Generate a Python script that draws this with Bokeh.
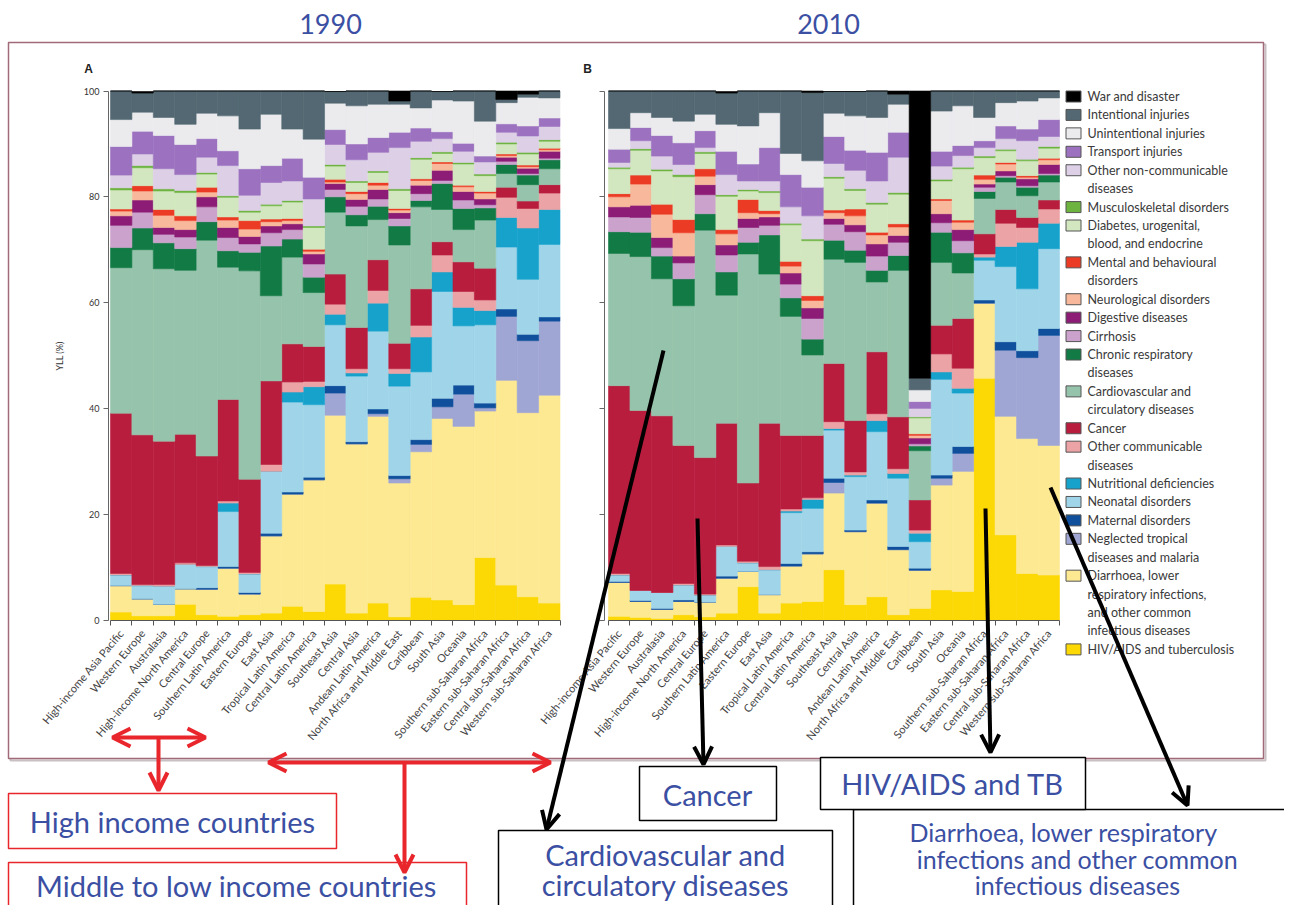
from bokeh.plotting import figure
from bokeh.models import Range1d, LinearAxis, FixedTicker, ColumnDataSource, Arrow, OpenHead
from bokeh.embed import file_html
from bokeh.resources import INLINE
from bokeh.core.properties import value

# ---------------- data ----------------
REGIONS = ["High-income Asia Pacific", "Western Europe", "Australasia", "High-income North America",
           "Central Europe", "Southern Latin America", "Eastern Europe", "East Asia",
           "Tropical Latin America", "Central Latin America", "Southeast Asia", "Central Asia",
           "Andean Latin America", "North Africa and Middle East", "Caribbean", "South Asia",
           "Oceania", "Southern sub-Saharan Africa", "Eastern sub-Saharan Africa",
           "Central sub-Saharan Africa", "Western sub-Saharan Africa"]

# stacking order, bottom to top
CAUSES = ["hiv", "diarrhoea", "ntd", "maternal", "neonatal", "nutritional", "other_comm", "cancer",
          "cvd", "chronic_resp", "cirrhosis", "digestive", "neuro", "mental", "diabetes", "musculo",
          "other_ncd", "transport", "unintentional", "intentional", "war"]

CAUSE_LABELS = ["HIV/AIDS and tuberculosis",
                "Diarrhoea, lower\nrespiratory infections,\nand other common\ninfectious diseases",
                "Neglected tropical\ndiseases and malaria", "Maternal disorders", "Neonatal disorders",
                "Nutritional deficiencies", "Other communicable\ndiseases", "Cancer",
                "Cardiovascular and\ncirculatory diseases", "Chronic respiratory\ndiseases", "Cirrhosis",
                "Digestive diseases", "Neurological disorders", "Mental and behavioural\ndisorders",
                "Diabetes, urogenital,\nblood, and endocrine", "Musculoskeletal disorders",
                "Other non-communicable\ndiseases", "Transport injuries", "Unintentional injuries",
                "Intentional injuries", "War and disaster"]

CAUSE_COLORS = ["#fcd805", "#fde992", "#a0a6d3", "#0f4f9c", "#a0d5e9", "#17a2cc", "#eba3a5", "#b91d3e",
                "#96c3ab", "#127a45", "#cba2cc", "#8c1c76", "#f7b89b", "#ec3b25", "#d2e7bf", "#6db33f",
                "#dccfe6", "#9c72c0", "#ebebee", "#536872", "#000000"]

# YLL share (%) by cause, 1990
HIV_1990 = [1.5, 0.8, 0.8, 3.0, 1.0, 0.7, 1.0, 1.3, 2.6, 1.6, 6.8, 1.3, 3.2, 0.6, 4.3, 3.8, 2.9, 11.8, 6.6, 4.4, 3.2]
DIAR_1990 = [5.0, 3.2, 2.2, 2.9, 4.8, 9.1, 3.9, 14.6, 21.2, 24.9, 31.9, 32.0, 35.3, 25.3, 27.5, 34.3, 33.7, 27.7, 38.7, 34.8, 39.3]
NTD_1990 = [0, 0, 0, 0, 0, 0, 0, 0, 0, 0, 4.2, 0, 0.5, 0.8, 1.4, 2.2, 6.1, 0.6, 12.1, 13.6, 14.0]
MAT_1990 = [0, 0, 0, 0, 0.3, 0.3, 0.3, 0.5, 0.4, 0.5, 1.4, 0.4, 0.9, 0.6, 0.9, 1.6, 1.7, 0.9, 1.4, 1.2, 0.8]
NEO_1990 = [2.0, 2.5, 3.4, 4.6, 4.0, 10.4, 3.5, 11.7, 17.0, 13.7, 11.5, 12.4, 14.7, 16.9, 12.8, 20.2, 11.2, 14.8, 11.7, 10.4, 13.7]
NUT_1990 = [0, 0, 0, 0, 0, 1.6, 0, 0, 1.9, 3.4, 2.0, 0.6, 5.3, 2.4, 6.6, 3.7, 3.5, 2.7, 5.6, 9.7, 6.6]
OC_1990 = [0.3, 0.2, 0.3, 0.3, 0.2, 0.4, 0.3, 1.3, 1.9, 1.0, 1.9, 0.8, 2.4, 0.9, 2.2, 3.2, 3.0, 2.0, 3.8, 3.7, 3.1]
CAN_1990 = [30.3, 28.3, 27.1, 24.3, 20.7, 19.2, 17.6, 15.8, 7.2, 6.6, 5.7, 7.8, 5.8, 4.8, 6.9, 2.5, 5.6, 6.0, 1.9, 1.4, 1.6]
CVD_1990 = [27.5, 35.0, 32.6, 31.0, 40.8, 25.0, 39.4, 16.1, 16.4, 10.2, 11.7, 19.2, 7.6, 18.6, 15.5, 6.1, 6.1, 9.1, 2.6, 3.1, 3.0]
CR_1990 = [3.8, 4.1, 4.9, 4.1, 3.5, 3.1, 3.5, 9.4, 3.4, 2.9, 2.9, 2.1, 2.5, 3.6, 1.2, 4.9, 4.0, 2.3, 1.7, 1.8, 1.7]
CIRR_1990 = [4.2, 3.0, 1.6, 2.2, 2.8, 2.5, 1.6, 2.5, 1.8, 2.5, 1.4, 1.6, 1.4, 1.4, 1.3, 0.6, 1.6, 0.6, 0.6, 0.3, 0.3]
DIG_1990 = [1.8, 2.3, 1.3, 1.4, 1.9, 1.9, 1.4, 1.3, 1.1, 1.9, 1.1, 1.3, 1.8, 1.1, 1.6, 1.9, 1.6, 1.1, 0.8, 1.0, 1.3]
NEU_1990 = [0.9, 1.7, 2.3, 1.7, 0.9, 1.4, 1.4, 0.8, 0.6, 0.5, 0.3, 1.1, 0.8, 0.5, 0.9, 1.3, 0.9, 1.1, 0.3, 0.3, 0.3]
MEN_1990 = [0.4, 1.0, 1.1, 0.9, 0.9, 0.6, 1.6, 0.5, 0.4, 0.4, 0.5, 0.4, 0.5, 0.3, 0.3, 0.3, 0.3, 0.3, 0.3, 0.3, 0.3]
DIAB_1990 = [3.6, 3.4, 3.5, 4.4, 2.5, 3.7, 1.6, 2.5, 3.1, 4.1, 2.5, 1.7, 1.9, 3.4, 3.7, 1.6, 4.0, 3.0, 1.9, 2.1, 1.3]
MUS_1990 = [0.4, 0.4, 0.4, 0.4, 0.3, 0.3, 0.3, 0.3, 0.3, 0.3, 0.3, 0.3, 0.3, 0.3, 0.3, 0.3, 0.3, 0.3, 0.3, 0.3, 0.3]
ONCD_1990 = [2.4, 2.2, 3.8, 3.0, 2.9, 5.7, 2.9, 4.1, 3.7, 5.1, 3.8, 4.0, 3.5, 7.8, 3.1, 2.5, 2.1, 2.3, 1.9, 3.1, 2.5]
TRA_1990 = [5.4, 4.3, 6.3, 5.7, 3.5, 2.8, 5.0, 3.2, 4.3, 4.1, 2.8, 3.0, 2.8, 2.9, 2.5, 1.3, 1.5, 1.1, 1.6, 1.9, 1.6]
UNI_1990 = [5.1, 3.6, 3.4, 3.8, 4.8, 6.6, 7.5, 9.7, 5.5, 7.2, 5.0, 7.2, 6.3, 5.3, 3.8, 6.0, 8.0, 6.6, 4.0, 5.4, 3.8]
INT_1990 = [5.4, 3.6, 5.0, 6.3, 4.2, 4.7, 7.2, 4.4, 7.2, 9.1, 2.2, 2.8, 2.5, 0.6, 3.2, 1.6, 1.9, 5.7, 0.6, 0.6, 1.3]
WAR_1990 = [0, 0.3, 0, 0, 0, 0, 0, 0, 0, 0, 0, 0, 0, 1.9, 0, 0, 0, 0, 1.6, 0.6, 0]

# YLL share (%) by cause, 2010
HIV_2010 = [0.7, 0.5, 0.3, 1.0, 0.6, 1.3, 6.3, 1.3, 3.2, 3.5, 9.5, 2.9, 4.4, 1.0, 2.2, 5.7, 5.4, 45.7, 16.1, 8.8, 8.5]
DIAR_2010 = [6.4, 3.0, 1.7, 2.5, 2.8, 6.6, 2.9, 3.5, 7.0, 9.0, 14.5, 13.8, 17.7, 12.3, 7.2, 19.8, 22.7, 14.2, 22.4, 25.5, 24.5]
NTD_2010 = [0, 0, 0, 0, 0, 0, 0, 0, 0, 0, 2.0, 0, 0, 0, 0, 1.3, 3.4, 0, 12.5, 15.3, 20.8]
MAT_2010 = [0.2, 0.2, 0.2, 0.3, 0, 0.4, 0, 0, 0.5, 0.4, 0.8, 0.3, 0.6, 0.6, 0.4, 0.6, 1.3, 0.6, 1.6, 1.3, 1.3]
NEO_2010 = [1.2, 1.9, 3.0, 2.8, 1.3, 5.6, 1.6, 4.7, 9.6, 8.2, 9.1, 10.1, 12.9, 12.9, 5.0, 18.1, 10.1, 7.5, 14.2, 11.7, 15.1]
NUT_2010 = [0, 0, 0, 0, 0, 0, 0, 0, 0.3, 1.7, 0.3, 0.3, 2.1, 0.9, 1.6, 1.4, 0.9, 0.6, 3.8, 8.8, 4.8]
OC_2010 = [0.3, 0, 0, 0.3, 0.2, 0.3, 0.3, 0.6, 0.4, 0.3, 1.3, 0.6, 1.3, 0.9, 0.6, 3.4, 3.8, 0.6, 4.4, 2.8, 2.7]
CAN_2010 = [35.5, 34.0, 33.4, 26.1, 25.8, 23.0, 14.8, 27.1, 13.9, 11.8, 11.0, 9.7, 11.7, 9.8, 5.7, 5.4, 9.4, 3.8, 2.6, 1.9, 1.7]
CVD_2010 = [25.0, 29.1, 25.9, 26.4, 43.0, 24.2, 43.3, 28.2, 22.5, 15.2, 19.7, 29.9, 13.2, 27.7, 9.3, 11.9, 8.6, 6.7, 5.2, 4.1, 3.4]
CR_2010 = [4.1, 4.6, 4.3, 5.1, 3.1, 4.4, 2.2, 7.4, 3.5, 3.0, 3.6, 2.3, 2.2, 2.8, 0.9, 5.7, 3.8, 1.3, 0.9, 1.6, 1.3]
CIRR_2010 = [2.8, 2.8, 1.6, 3.0, 3.6, 3.2, 2.8, 1.8, 2.6, 3.9, 3.0, 3.5, 2.7, 2.5, 0.4, 1.8, 2.3, 0.8, 0.3, 0.3, 0.3]
DIG_2010 = [1.9, 2.3, 1.9, 1.3, 1.9, 1.9, 1.7, 1.6, 2.1, 2.0, 1.1, 1.3, 2.3, 1.3, 1.1, 1.7, 2.1, 0.6, 0.9, 1.3, 1.7]
NEU_2010 = [1.9, 4.0, 4.4, 4.4, 1.6, 2.1, 1.1, 0.6, 1.3, 1.4, 1.1, 1.7, 1.7, 1.6, 0.5, 2.5, 1.4, 0.9, 1.3, 0.3, 0.9]
MEN_2010 = [0.6, 1.7, 1.9, 2.5, 1.4, 0.8, 2.5, 0.6, 0.9, 0.9, 0.5, 1.3, 0.5, 0.6, 0.3, 0.3, 0.4, 0.8, 0.3, 0.3, 0.3]
DIAB_2010 = [4.7, 4.7, 6.3, 8.1, 2.9, 6.3, 1.6, 3.4, 6.9, 10.4, 6.0, 3.5, 5.3, 5.6, 3.0, 3.4, 9.7, 3.3, 2.2, 2.8, 1.9]
MUS_2010 = [0.3, 0.3, 0.3, 0.4, 0.3, 0.3, 0.3, 0.3, 0.3, 0.3, 0.3, 0.3, 0.3, 0.3, 0.2, 0.3, 0.3, 0.3, 0.3, 0.3, 0.3]
ONCD_2010 = [0.9, 1.5, 2.5, 1.9, 0.8, 3.8, 1.6, 1.9, 3.1, 4.4, 2.5, 3.5, 4.1, 6.7, 1.6, 2.5, 2.2, 1.6, 2.0, 3.5, 1.9]
TRA_2010 = [2.5, 2.5, 3.9, 4.1, 3.2, 4.4, 3.2, 6.3, 6.1, 5.4, 5.1, 3.8, 5.4, 4.7, 1.3, 2.8, 1.9, 1.3, 2.4, 2.2, 3.2]
UNI_2010 = [3.9, 2.8, 3.4, 4.1, 3.1, 5.1, 7.2, 6.6, 4.0, 5.0, 4.4, 6.5, 6.6, 5.3, 2.2, 7.6, 7.5, 4.4, 4.4, 5.3, 4.1]
INT_2010 = [7.1, 4.1, 5.0, 5.7, 4.4, 5.9, 6.6, 4.1, 11.8, 12.9, 4.1, 4.6, 5.0, 1.9, 2.2, 3.8, 2.8, 5.0, 2.2, 1.9, 1.3]
WAR_2010 = [0, 0, 0, 0, 0, 0.3, 0, 0, 0, 0.3, 0, 0, 0, 0.6, 54.3, 0, 0, 0, 0, 0, 0]

Y_TICKS = [0, 20, 40, 60, 80, 100]

YLL_1990 = [HIV_1990, DIAR_1990, NTD_1990, MAT_1990, NEO_1990, NUT_1990, OC_1990, CAN_1990, CVD_1990,
            CR_1990, CIRR_1990, DIG_1990, NEU_1990, MEN_1990, DIAB_1990, MUS_1990, ONCD_1990, TRA_1990,
            UNI_1990, INT_1990, WAR_1990]
YLL_2010 = [HIV_2010, DIAR_2010, NTD_2010, MAT_2010, NEO_2010, NUT_2010, OC_2010, CAN_2010, CVD_2010,
            CR_2010, CIRR_2010, DIG_2010, NEU_2010, MEN_2010, DIAB_2010, MUS_2010, ONCD_2010, TRA_2010,
            UNI_2010, INT_2010, WAR_2010]

# ---------------- layout ----------------
W, H = 1284, 905
BLUE = "#3b4fa3"
RED = "#e8262b"
FONT = "Lato"

# canvas coordinates = picture pixels (y downwards)
p = figure(width=W, height=H, x_range=Range1d(0, W), y_range=Range1d(H, 0),
           output_backend="svg", toolbar_location=None, x_axis_type=None, y_axis_type=None,
           min_border=0, outline_line_color=None, background_fill_color="white")


def mapped_range(v_a, px_a, v_b, px_b, px_lo, px_hi):
    s = (v_b - v_a) / (px_b - px_a)
    return Range1d(v_a + (px_lo - px_a) * s, v_a + (px_hi - px_a) * s)


PLOT_TOP, PLOT_BOT = 90.5, 619.5
p.extra_y_ranges = {"pct": mapped_range(0, PLOT_BOT, 100, PLOT_TOP, H, 0)}
PANELS = [("xa", 110.0, 559.5, 108.0, YLL_1990, True),
          ("xb", 608.0, 1059.0, 604.0, YLL_2010, False)]
p.extra_x_ranges = {name: mapped_range(-0.5, x0, len(REGIONS) - 0.5, x1, 0, W)
                    for name, x0, x1, _, _, _ in PANELS}

# outer frame
p.quad(left=[10], right=[1265], top=[44], bottom=[760], fill_color=None, line_color="#c8c0c4", line_width=2)
p.quad(left=[8], right=[1263], top=[42], bottom=[758], fill_color="white", line_color="#a06a78", line_width=1.5)

idx = list(range(len(REGIONS)))
for name, x0, x1, axis_x, table, show_labels in PANELS:
    data = {"x": idx}
    for c, vals in zip(CAUSES, table):
        data[c] = vals
    src = ColumnDataSource(data)
    p.vbar_stack(CAUSES, x="x", width=1.0, color=CAUSE_COLORS, line_width=0.6, source=src,
                 x_range_name=name, y_range_name="pct")

    yax = LinearAxis(y_range_name="pct", fixed_location=axis_x, ticker=FixedTicker(ticks=Y_TICKS),
                     bounds=(0, 100), axis_line_color="#666666", major_tick_line_color="#666666",
                     major_tick_out=5, major_tick_in=0, minor_tick_line_color=None,
                     major_label_text_font=FONT, major_label_text_font_size="9px",
                     major_label_text_color="#333333", major_label_standoff=4)
    if show_labels:
        yax.axis_label = "YLL (%)"
        yax.axis_label_text_font = FONT
        yax.axis_label_text_font_size = "9px"
        yax.axis_label_text_font_style = "normal"
        yax.axis_label_text_color = "#333333"
        yax.axis_label_standoff = 16
    else:
        yax.major_label_overrides = {t: "" for t in Y_TICKS}
    p.add_layout(yax, "left")

    xax = LinearAxis(x_range_name=name, y_range_name="pct", fixed_location=0,
                     ticker=FixedTicker(ticks=idx, minor_ticks=[i - 0.5 for i in range(len(REGIONS) + 1)]),
                     bounds=(-0.5, len(REGIONS) - 0.5),
                     major_label_overrides={i: r for i, r in enumerate(REGIONS)},
                     major_label_orientation=0.87, major_tick_in=0, major_tick_out=0,
                     minor_tick_in=0, minor_tick_out=5, minor_tick_line_color="#555555",
                     axis_line_color="#555555", major_label_text_font=FONT,
                     major_label_text_font_size="11px", major_label_text_color="#444444",
                     major_label_standoff=6)
    p.add_layout(xax, "below")

# panel letters and titles
p.text(x=[88, 587], y=[68, 68], text=["A", "B"], text_font=value("Liberation Sans"),
       text_font_size="12px", text_font_style="bold", text_align="center", text_baseline="middle",
       text_color="#222222")
p.text(x=[330, 828], y=[23, 23], text=["1990", "2010"], text_font=value(FONT), text_font_size="27px",
       text_align="center", text_baseline="middle", text_color=BLUE)

# legend (top entry = last cause in stack)
LEG_X, LEG_Y0, LEG_STEP = 1073, 96, 18.43
sw_y, sw_c, tx, ty, tt = [], [], [], [], []
line_no = 0
for c_label, c_color in zip(reversed(CAUSE_LABELS), reversed(CAUSE_COLORS)):
    y0 = LEG_Y0 + line_no * LEG_STEP
    sw_y.append(y0)
    sw_c.append(c_color)
    for k, part in enumerate(c_label.split("\n")):
        tx.append(LEG_X + 14)
        ty.append(y0 + k * LEG_STEP)
        tt.append(part)
    line_no += len(c_label.split("\n"))
p.rect(x=[LEG_X] * len(sw_y), y=sw_y, width=15, height=11, fill_color=sw_c, line_color="#555555",
       line_width=1)
p.text(x=tx, y=ty, text=tt, text_font=value(FONT), text_font_size="12.5px", text_baseline="middle",
       text_color="#3a3a3a")

# annotation boxes
BOXES = [(8, 336, 793, 848, RED), (8, 466, 862, 918, RED), (498, 832, 830, 921, "black"),
         (639, 776, 766, 820, "black"), (853, 1300, 809, 921, "black"), (820, 1085, 757, 809, "black")]
for l, r, t, b, col in BOXES:
    p.quad(left=[l], right=[r], top=[t], bottom=[b], fill_color="white", line_color=col, line_width=1.5)

BIG = [("High income countries", 172, 821), ("Middle to low income countries", 236, 885),
       ("Cardiovascular and", 665, 854), ("circulatory diseases", 665, 884),
       ("Cancer", 707, 794), ("HIV/AIDS and TB", 952, 783)]
p.text(x=[t[1] for t in BIG], y=[t[2] for t in BIG], text=[t[0] for t in BIG],
       text_font=value(FONT), text_font_size="29px", text_align="center", text_baseline="middle",
       text_color=BLUE)
SMALL = [("Diarrhoea, lower respiratory", 1063, 831), ("infections and other common", 1077, 858),
         ("infectious diseases", 1077, 884)]
p.text(x=[t[1] for t in SMALL], y=[t[2] for t in SMALL], text=[t[0] for t in SMALL],
       text_font=value(FONT), text_font_size="25px", text_align="center", text_baseline="middle",
       text_color=BLUE)

# arrows
def arrow(x0, y0, x1, y1, color, both=False):
    kw = dict(end=OpenHead(size=18, line_width=4, line_color=color), x_start=x0, y_start=y0,
              x_end=x1, y_end=y1, line_width=4, line_color=color)
    kw["start"] = OpenHead(size=18, line_width=4, line_color=color) if both else None
    p.add_layout(Arrow(**kw))


arrow(112, 737, 205, 737, RED, both=True)
arrow(158, 737, 158, 790, RED)
arrow(268, 762, 550, 762, RED, both=True)
arrow(404, 762, 404, 872, RED)
arrow(663, 350, 546, 829, "black")
arrow(697, 518, 703, 764, "black")
arrow(985, 508, 990, 752, "black")
arrow(1050, 487, 1187, 805, "black")

open("out.html", "w").write(file_html(p, INLINE))
